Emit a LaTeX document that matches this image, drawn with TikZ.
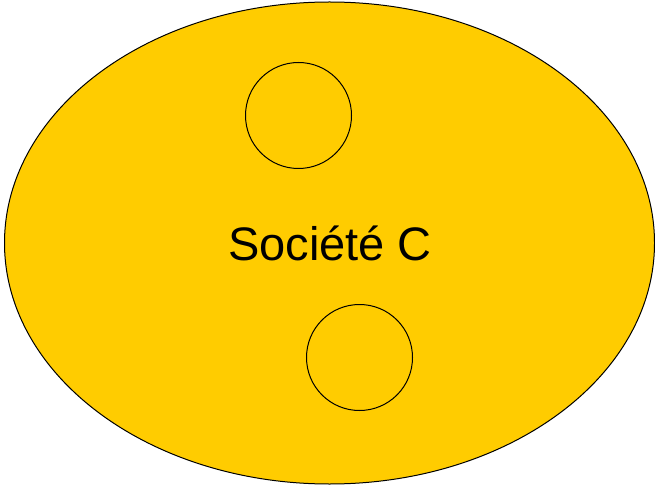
\documentclass[tikz,border=0pt]{standalone}
\usepackage{fontspec}
\setmainfont{Liberation Sans}
\usetikzlibrary{shapes.geometric}
\definecolor{gold}{HTML}{FFCC00}
\begin{document}
\begin{tikzpicture}[x=1pt,y=-1pt,
  blob/.style={draw=black,line width=1pt},
  ring/.style={draw=black,line width=1pt,circle,minimum size=106pt,inner sep=0pt}]
\useasboundingbox (0,0) rectangle (655,486);
\node[blob,fill=gold,ellipse,minimum width=650pt,minimum height=482pt,inner sep=0pt] (soc) at (329.5,243) {};
\node (lbl) at (330,243) {\fontsize{47}{56}\selectfont Société C};
\node[ring] (c1) at (298.5,115.5) {};
\node[ring] (c2) at (359.5,357.5) {};
\end{tikzpicture}
\end{document}
